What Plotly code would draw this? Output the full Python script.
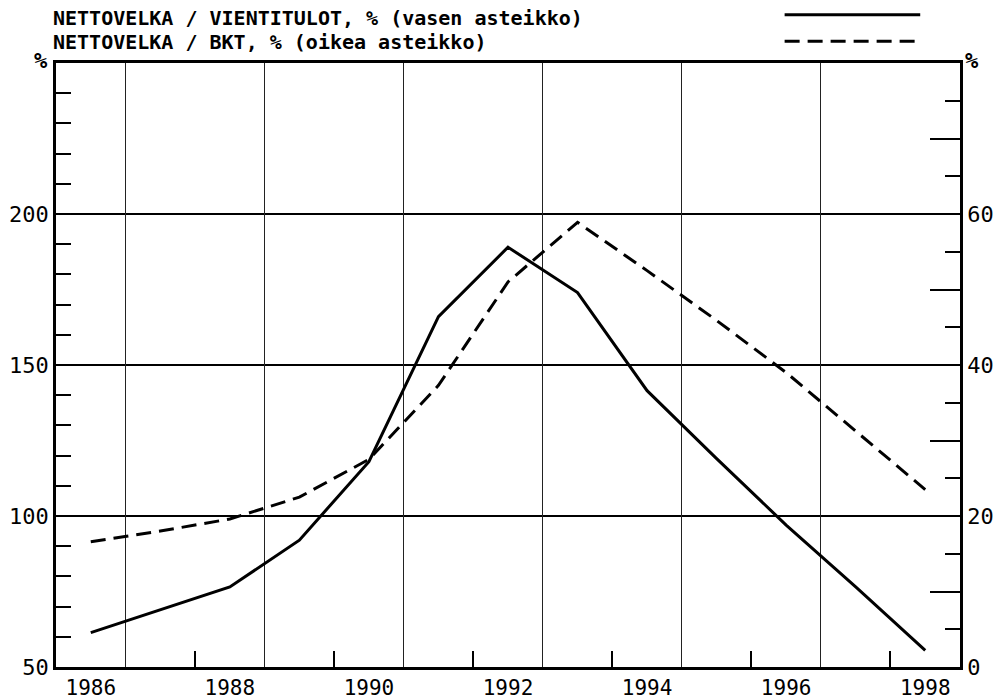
import plotly.graph_objects as go

# ---- data ----
years = [1986, 1987, 1988, 1989, 1990, 1991, 1992, 1993, 1994, 1995, 1996, 1997, 1998]
debt_to_exports = [61.4, 69.0, 76.5, 92.0, 118.0, 166.0, 189.0, 174.0, 141.5, 119.0, 97.0, 76.5, 55.5]
debt_to_gdp = [16.6, 18.0, 19.6, 22.5, 27.5, 37.3, 51.0, 58.9, 52.5, 45.9, 39.0, 31.2, 23.5]

year_labels = [1986, 1988, 1990, 1992, 1994, 1996, 1998]
left_ticks = [50, 100, 150, 200]
right_ticks = [0, 20, 40, 60]
left_minor = [60, 70, 80, 90, 110, 120, 130, 140, 160, 170, 180, 190, 210, 220, 230, 240]
right_minor = [5, 15, 25, 35, 45, 55, 65, 75]
right_mid = [10, 30, 50, 70]
grid_x = [1986.5, 1988.5, 1990.5, 1992.5, 1994.5, 1996.5]
minor_x = [1987.5, 1989.5, 1991.5, 1993.5, 1995.5, 1997.5]

title1 = "NETTOVELKA / VIENTITULOT, % (vasen asteikko)"
title2 = "NETTOVELKA / BKT, % (oikea asteikko)"

MONO = "DejaVu Sans Mono"

fig = go.Figure()
fig.add_trace(go.Scatter(x=years, y=debt_to_exports, mode="lines",
                         line=dict(color="black", width=3),
                         xaxis="x", yaxis="y", showlegend=False, hoverinfo="skip"))
fig.add_trace(go.Scatter(x=years, y=debt_to_gdp, mode="lines",
                         line=dict(color="black", width=3, dash="15px,8px"),
                         xaxis="x2", yaxis="y2", showlegend=False, hoverinfo="skip"))
fig.add_trace(go.Scatter(x=[None], y=[None], mode="lines", xaxis="x", yaxis="y3",
                         showlegend=False, hoverinfo="skip"))

xr = [1985.5, 1998.5]
fig.update_layout(
    width=994, height=699,
    margin=dict(l=56, r=34, t=63, b=32, autoexpand=False),
    plot_bgcolor="white", paper_bgcolor="white",
    font=dict(family=MONO, color="black"),
    xaxis=dict(range=xr, tickmode="array", tickvals=year_labels, automargin=False,
               ticktext=[str(v) for v in year_labels], ticks="",
               showgrid=False, zeroline=False, showline=True, linecolor="black",
               linewidth=2.5, mirror=True, tickfont=dict(size=21, family=MONO)),
    xaxis2=dict(range=xr, overlaying="x", matches="x", anchor="y", side="bottom",
                automargin=False,
                tickmode="array", tickvals=grid_x, ticks="", showticklabels=False,
                showgrid=True, gridcolor="#222", gridwidth=1.3, zeroline=False,
                showline=False,
                minor=dict(tickmode="array", tickvals=minor_x, ticks="inside",
                           ticklen=16, tickwidth=2, tickcolor="black", showgrid=False)),
    yaxis=dict(range=[50, 250], tickmode="array", tickvals=left_ticks, ticks="",
               automargin=False,
               showgrid=True, gridcolor="black", gridwidth=2, zeroline=False,
               showline=True, linecolor="black", linewidth=2.5,
               tickfont=dict(size=22, family=MONO),
               minor=dict(tickmode="array", tickvals=left_minor, ticks="inside",
                          ticklen=15, tickwidth=2, tickcolor="black", showgrid=False)),
    yaxis2=dict(range=[0, 80], overlaying="y", side="right", anchor="x",
                automargin=False,
                tickmode="array", tickvals=right_ticks, ticks="", showgrid=False,
                zeroline=False, showline=True, linecolor="black", linewidth=2.5,
                tickfont=dict(size=22, family=MONO),
                minor=dict(tickmode="array", tickvals=right_minor, ticks="inside",
                           ticklen=15, tickwidth=2, tickcolor="black", showgrid=False)),
    yaxis3=dict(range=[0, 80], overlaying="y", side="right", anchor="x",
                automargin=False,
                tickmode="array", tickvals=right_mid, ticks="inside", ticklen=30,
                tickwidth=2, tickcolor="black", showticklabels=False,
                showgrid=False, zeroline=False, showline=False),
)

# titles / legend texts
fig.add_annotation(xref="paper", yref="paper", x=-0.005, y=1.074, xanchor="left",
                   yanchor="middle", text=title1, showarrow=False,
                   font=dict(family=MONO, size=20, color="black", weight="bold"))
fig.add_annotation(xref="paper", yref="paper", x=-0.005, y=1.034, xanchor="left",
                   yanchor="middle", text=title2, showarrow=False,
                   font=dict(family=MONO, size=20, color="black", weight="bold"))
# legend sample lines
fig.add_shape(type="line", xref="paper", yref="paper", x0=0.806, x1=0.956,
              y0=1.08, y1=1.08, line=dict(color="black", width=3))
fig.add_shape(type="line", xref="paper", yref="paper", x0=0.806, x1=0.956,
              y0=1.036, y1=1.036, line=dict(color="black", width=3, dash="15px,8px"))
# axis unit labels
fig.add_annotation(xref="paper", yref="paper", x=-0.017, y=1.004, xanchor="center",
                   yanchor="middle", text="%", showarrow=False,
                   font=dict(family=MONO, size=22, color="black", weight="bold"))
fig.add_annotation(xref="paper", yref="paper", x=1.013, y=1.004, xanchor="center",
                   yanchor="middle", text="%", showarrow=False,
                   font=dict(family=MONO, size=22, color="black", weight="bold"))

fig.write_html("out.html", config={"displayModeBar": False},
               post_script="document.body.style.margin='0';document.body.style.overflow='hidden';")
